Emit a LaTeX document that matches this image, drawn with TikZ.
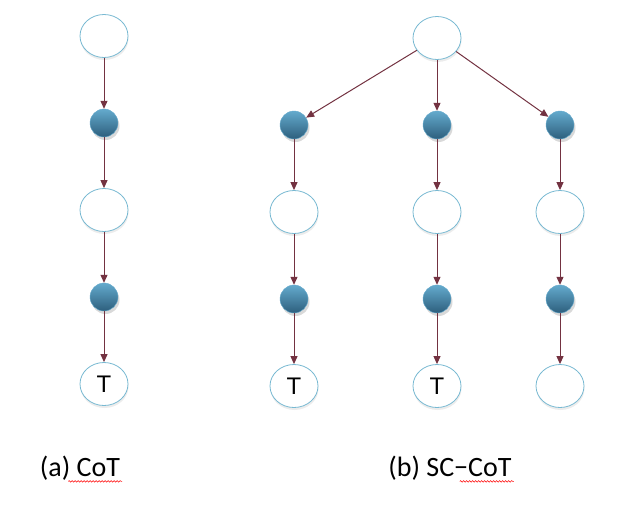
\documentclass[tikz,border=0pt]{standalone}
\usepackage{fontspec}
\setsansfont{Carlito}
\newfontfamily\tfont{Liberation Sans}
\usetikzlibrary{arrows.meta, shapes.geometric, shadows, decorations.pathmorphing}
\definecolor{rim}{RGB}{120,185,210}
\definecolor{balltop}{RGB}{100,170,205}
\definecolor{ballbot}{RGB}{45,95,125}
\definecolor{wine}{RGB}{115,50,65}
\tikzset{
  ell/.style={ellipse, draw=rim, fill=white, line width=0.8pt,
    minimum width=48pt, minimum height=43pt, inner sep=0pt,
    font=\tfont\fontsize{24}{24}\selectfont,
    drop shadow={opacity=0.15, shadow xshift=0.5pt, shadow yshift=-2.5pt}},
  ball/.style={circle, top color=balltop, bottom color=ballbot, draw=balltop,
    line width=0.4pt, minimum size=28pt, inner sep=0pt,
    drop shadow={opacity=0.3, shadow xshift=1.5pt, shadow yshift=-3pt}},
  lab/.style={inner sep=0pt, font=\sffamily\fontsize{28}{28}\selectfont},
  squig/.style={-, draw=red, line width=0.5pt,
    decorate, decoration={snake, segment length=3pt, amplitude=0.8pt}}
}
\begin{document}
\begin{tikzpicture}[->, >={Triangle[length=8pt,width=7pt]}, x=1pt, y=1pt,
    node distance=87pt, every edge/.append style={draw=wine, line width=1pt}]
    \useasboundingbox (0,0) rectangle (620,-509);

    % (a) chain of thought
    \node[ell] (a1) at (104,-36) {};
    \node[ball] (a2) [below of=a1] {};
    \node[ell] (a3) [below of=a2] {};
    \node[ball] (a4) [below of=a3] {};
    \node[ell] (a5) [below of=a4] {T};

    \path (a1) edge (a2)
          (a2) edge (a3)
          (a3) edge (a4)
          (a4) edge (a5);

    % (b) self-consistency
    \node[ell] (b0) at (437,-38) {};
    \node[ball] (l1) [below of=b0, xshift=-143pt] {};
    \node[ell] (l2) [below of=l1] {};
    \node[ball] (l3) [below of=l2] {};
    \node[ell] (l4) [below of=l3] {T};
    \node[ball] (m1) [below of=b0] {};
    \node[ell] (m2) [below of=m1] {};
    \node[ball] (m3) [below of=m2] {};
    \node[ell] (m4) [below of=m3] {T};
    \node[ball] (r1) [below of=b0, xshift=123pt] {};
    \node[ell] (r2) [below of=r1] {};
    \node[ball] (r3) [below of=r2] {};
    \node[ell] (r4) [below of=r3] {};

    \path (b0) edge (l1)
          (b0) edge (m1)
          (b0) edge (r1)
          (l1) edge (l2) (l2) edge (l3) (l3) edge (l4)
          (m1) edge (m2) (m2) edge (m3) (m3) edge (m4)
          (r1) edge (r2) (r2) edge (r3) (r3) edge (r4);

    % captions
    \node[lab] (capa) at (80,-468) {(a) CoT};
    \node[lab] (capb) at (450,-468) {(b) SC−CoT};
    \draw[squig] ([xshift=-52pt,yshift=-1pt]capa.south east) -- ([xshift=2pt,yshift=-1pt]capa.south east);
    \draw[squig] ([xshift=-52pt,yshift=-1pt]capb.south east) -- ([xshift=2pt,yshift=-1pt]capb.south east);
\end{tikzpicture}
\end{document}
